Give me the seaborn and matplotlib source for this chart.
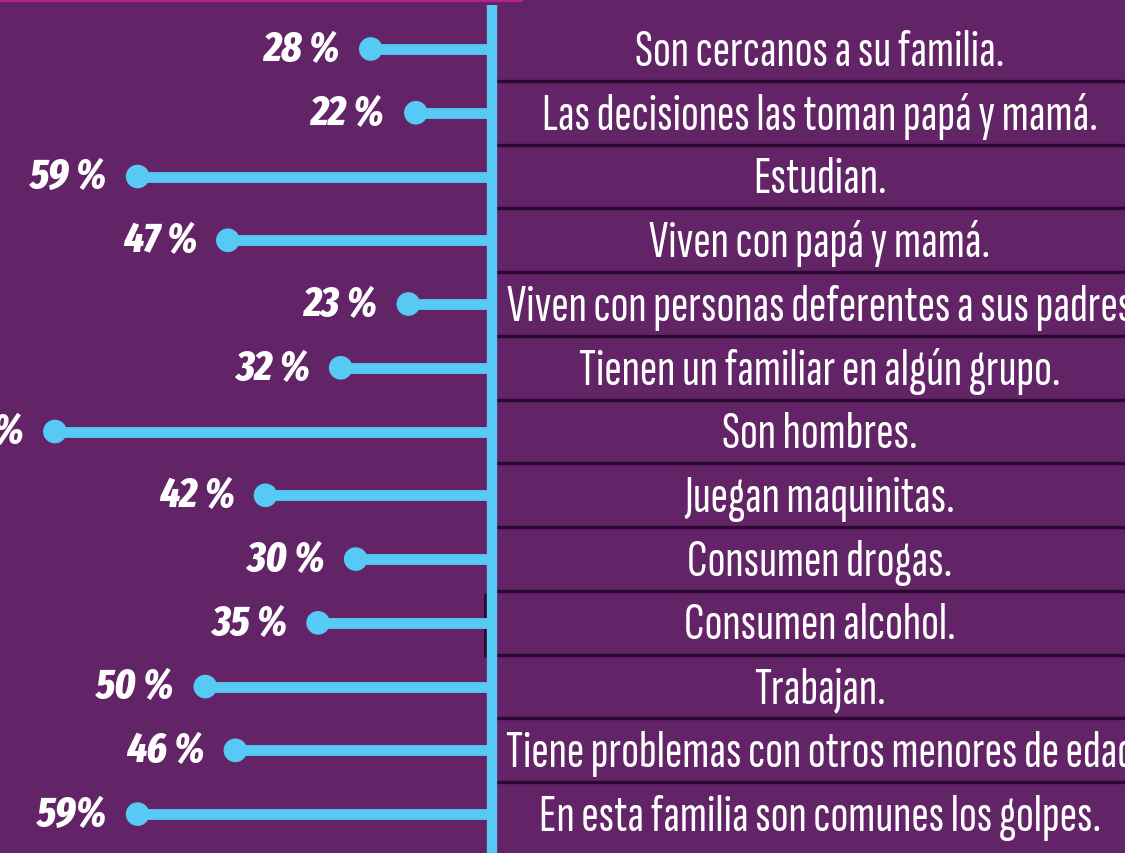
import matplotlib.pyplot as plt
import pandas as pd
import seaborn as sns

# Data
categories = [
    "Son cercanos a su familia.",
    "Las decisiones las toman papá y mamá.",
    "Estudian.",
    "Viven con papá y mamá.",
    "Viven con personas deferentes a sus padres",
    "Tienen un familiar en algún grupo.",
    "Son hombres.",
    "Juegan maquinitas.",
    "Consumen drogas.",
    "Consumen alcohol.",
    "Trabajan.",
    "Tiene problemas con otros menores de edad",
    "En esta familia son comunes los golpes.",
]
values = [28, 22, 59, 47, 23, 32, 70, 42, 30, 35, 50, 46, 59]
value_labels = ["28 %", "22 %", "59 %", "47 %", "23 %", "32 %", "70 %",
                "42 %", "30 %", "35 %", "50 %", "46 %", "59%"]

df = pd.DataFrame({"category": categories, "value": values, "label": value_labels})
df["row"] = range(len(df))

purple = "#632467"
blue = "#56C9F5"
dark = "#2A0830"
magenta = "#B5228F"

sns.set_theme(style="white", rc={"figure.facecolor": purple, "axes.facecolor": purple})
plt.rcParams['font.family'] = ['Sofia Sans Extra Condensed', 'DejaVu Sans']
pct_fonts = ['Fira Sans Extra Condensed', 'Roboto Condensed', 'DejaVu Sans']

fig = plt.figure(figsize=(11.25, 8.54), dpi=100)
ax = fig.add_axes([0, 0, 1, 1])

# the spine the lollipops hang from
base = 11.9
ax.set_xlim(77.3, -72.3)
ax.set_ylim(12.61, -0.784)

ax.hlines(df["row"], base, df["value"], color=blue, lw=7.8, zorder=2)
sns.scatterplot(data=df, x="value", y="row", ax=ax, color=blue, s=290,
                edgecolor="none", zorder=3, legend=False)
ax.vlines(base, -0.69, 12.61, color=blue, lw=7.4, zorder=4)

# magenta rule at the very top
ax.axhline(-0.77, xmin=0, xmax=521 / 1125, color=magenta, lw=3)

# separators on the right side
trans = ax.get_yaxis_transform()
for r in df["row"][:-1]:
    ax.axhline(r + 0.5, xmin=497 / 1125, xmax=1, color=dark, lw=2.4, zorder=1)
ax.plot([485 / 1125] * 2, [8.55, 9.52], transform=trans, color=dark, lw=2, zorder=1)

pct_texts = []
cat_texts = []
for _, row in df.iterrows():
    pct_texts.append(ax.annotate(row["label"], (row["value"], row["row"]), xytext=(-22, 0),
                                 textcoords="offset points", ha="right", va="center",
                                 color="white", fontsize=20, fontweight="heavy",
                                 fontstyle="italic", family=pct_fonts))
    cat_texts.append(ax.text(820 / 1125, row["row"] + 0.04, row["category"], transform=trans,
                             ha="center", va="center", color="white", fontsize=20,
                             fontweight="light"))

# size the text so its width matches the picture, whatever font was found
renderer = fig.canvas.get_renderer()
w = cat_texts[0].get_window_extent(renderer).width
cat_size = 20 * 368 / w
for t in cat_texts:
    t.set_fontsize(cat_size)
w = pct_texts[1].get_window_extent(renderer).width
pct_size = 20 * 74 / w
for t in pct_texts:
    t.set_fontsize(pct_size)

ax.set_xticks([])
ax.set_yticks([])
ax.set_xlabel("")
ax.set_ylabel("")
for s in ax.spines.values():
    s.set_visible(False)

fig.savefig("out.png", dpi=100, facecolor=purple)
